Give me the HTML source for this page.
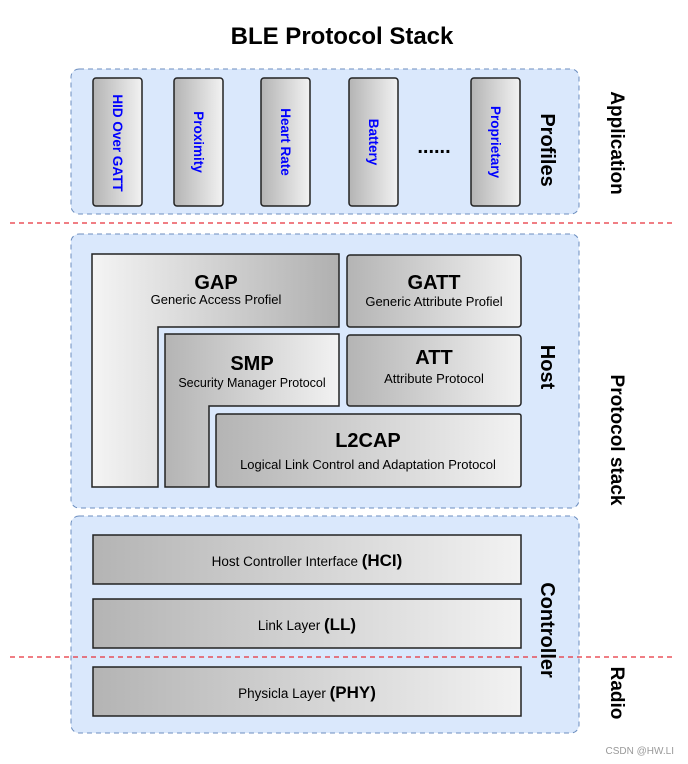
<!DOCTYPE html>
<html><head><style>html,body{margin:0;padding:0;background:#fff}svg{display:block}</style></head><body>
<svg width="688" height="764" viewBox="0 0 688 764" xmlns="http://www.w3.org/2000/svg" font-family="Liberation Sans, Arial, sans-serif">
<defs>
<linearGradient id="dl" x1="0" x2="1" y1="0" y2="0"><stop offset="0" stop-color="#b4b4b4"/><stop offset="1" stop-color="#f2f2f2"/></linearGradient>
<linearGradient id="ld" x1="0" x2="1" y1="0" y2="0"><stop offset="0" stop-color="#f4f4f4"/><stop offset="1" stop-color="#b0b0b0"/></linearGradient>
</defs>
<text x="342" y="44" text-anchor="middle" font-size="24" font-weight="bold">BLE Protocol Stack</text>
<g fill="#dae8fc" stroke="#6c8ebf" stroke-dasharray="5,4" stroke-width="1">
<rect x="71" y="69" width="508" height="145" rx="8"/>
<rect x="71" y="234" width="508" height="274" rx="8"/>
<rect x="71" y="516" width="508" height="217" rx="8"/>
</g>
<g stroke="#e8303a" stroke-dasharray="5,4" stroke-width="1.2">
<line x1="10" y1="223" x2="672" y2="223"/>
<line x1="10" y1="657" x2="672" y2="657"/>
</g>
<g fill="url(#dl)" stroke="#222" stroke-width="1.5">
<rect x="93" y="78" width="49" height="128" rx="3"/>
<rect x="174" y="78" width="49" height="128" rx="3"/>
<rect x="261" y="78" width="49" height="128" rx="3"/>
<rect x="349" y="78" width="49" height="128" rx="3"/>
<rect x="471" y="78" width="49" height="128" rx="3"/>
</g>
<g fill="#0000ff" font-size="13.5" font-weight="bold" text-anchor="middle">
<text transform="translate(113,143) rotate(90)">HID Over GATT</text>
<text transform="translate(194,142) rotate(90)">Proximity</text>
<text transform="translate(281,142) rotate(90)">Heart Rate</text>
<text transform="translate(369,142) rotate(90)">Battery</text>
<text transform="translate(491,142) rotate(90)">Proprietary</text>
</g>
<text x="434" y="153" text-anchor="middle" font-size="20" font-weight="bold">......</text>
<path d="M92 254H339V327H158V487H92Z" fill="url(#ld)" stroke="#222" stroke-width="1.5"/>
<path d="M165 334H339V406H209V487H165Z" fill="url(#dl)" stroke="#222" stroke-width="1.5"/>
<rect x="216" y="414" width="305" height="73" fill="url(#dl)" stroke="#222" stroke-width="1.5" rx="2"/>
<rect x="347" y="255" width="174" height="72" fill="url(#dl)" stroke="#222" stroke-width="1.5" rx="3"/>
<rect x="347" y="335" width="174" height="71" fill="url(#dl)" stroke="#222" stroke-width="1.5" rx="3"/>
<g text-anchor="middle" fill="#000">
<text x="216" y="289" font-size="20" font-weight="bold">GAP</text>
<text x="216" y="304" font-size="13">Generic Access Profiel</text>
<text x="252" y="370" font-size="20" font-weight="bold">SMP</text>
<text x="252" y="387" font-size="12.5">Security Manager Protocol</text>
<text x="368" y="447" font-size="20" font-weight="bold">L2CAP</text>
<text x="368" y="469" font-size="13">Logical Link Control and Adaptation Protocol</text>
<text x="434" y="289" font-size="20" font-weight="bold">GATT</text>
<text x="434" y="306" font-size="13">Generic Attribute Profiel</text>
<text x="434" y="364" font-size="20" font-weight="bold">ATT</text>
<text x="434" y="383" font-size="13">Attribute Protocol</text>
</g>
<g fill="url(#dl)" stroke="#222" stroke-width="1.5">
<rect x="93" y="535" width="428" height="49"/>
<rect x="93" y="599" width="428" height="49"/>
<rect x="93" y="667" width="428" height="49"/>
</g>
<g text-anchor="middle" font-size="13.5">
<text x="307" y="566">Host Controller Interface <tspan font-weight="bold" font-size="17">(HCI)</tspan></text>
<text x="307" y="630">Link Layer <tspan font-weight="bold" font-size="17">(LL)</tspan></text>
<text x="307" y="698">Physicla Layer <tspan font-weight="bold" font-size="17">(PHY)</tspan></text>
</g>
<g font-size="20" font-weight="bold" text-anchor="middle">
<text transform="translate(541,150) rotate(90)">Profiles</text>
<text transform="translate(541,367) rotate(90)">Host</text>
<text transform="translate(541,630) rotate(90)">Controller</text>
<text transform="translate(611,143) rotate(90)" font-size="19">Application</text>
<text transform="translate(611,440) rotate(90)" font-size="19">Protocol stack</text>
<text transform="translate(611,693) rotate(90)" font-size="19">Radio</text>
</g>
<text x="674" y="754" text-anchor="end" font-size="10" fill="#999">CSDN @HW.LI</text>
</svg>
</body></html>
